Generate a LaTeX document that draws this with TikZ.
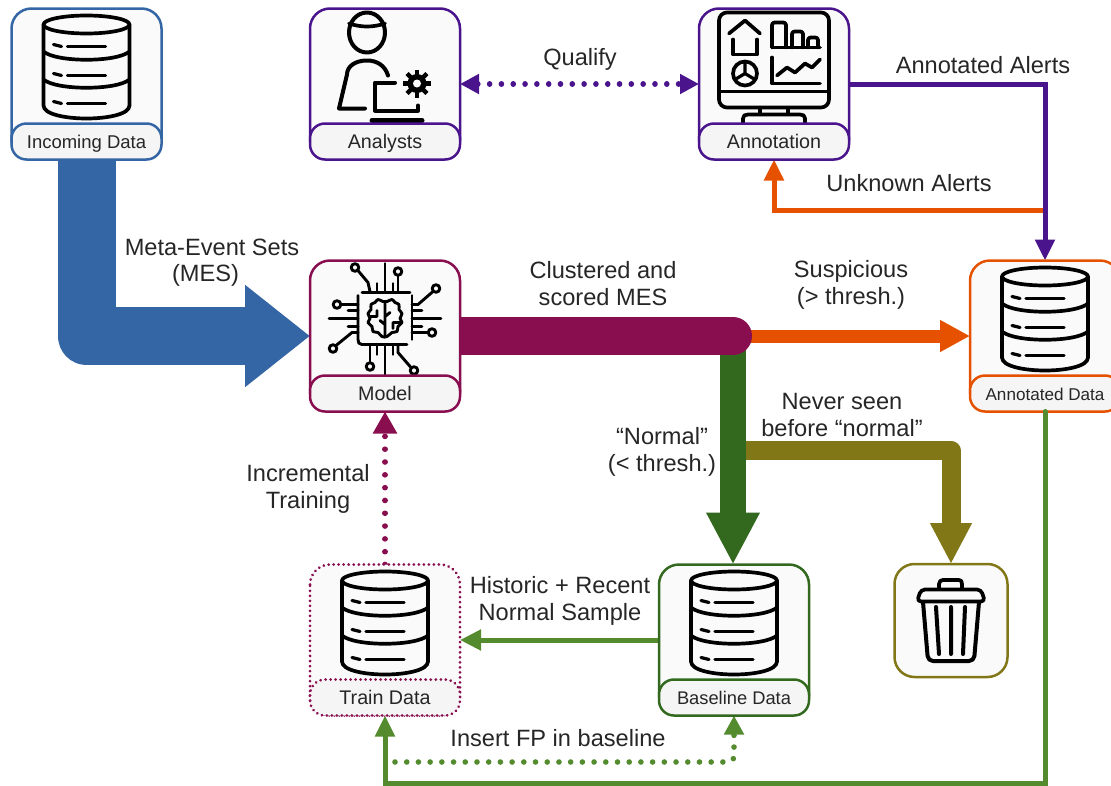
\documentclass[tikz,border=0pt]{standalone}
\usepackage{fontspec}
\setmainfont{Liberation Sans}
\usetikzlibrary{arrows.meta,backgrounds}
\definecolor{cblue}{HTML}{3465A4}
\definecolor{cpurple}{HTML}{4A148C}
\definecolor{cmaroon}{HTML}{880E4F}
\definecolor{corange}{HTML}{E65100}
\definecolor{cdgreen}{HTML}{33691E}
\definecolor{colive}{HTML}{827717}
\definecolor{cgreen}{HTML}{558B2F}
\definecolor{cfill}{HTML}{FAFAFA}
\definecolor{cfoot}{HTML}{F5F5F5}
\definecolor{ctext}{HTML}{262626}
\tikzset{
  cardbox/.style={rectangle,draw=#1,fill=cfill,rounded corners=20pt,line width=2.5pt,
    minimum width=150pt,minimum height=151pt,inner sep=0pt,outer sep=0pt},
  trashbox/.style={cardbox=#1,minimum width=113pt,minimum height=113pt},
  cardfoot/.style={rectangle,draw=#1,fill=cfoot,rounded corners=15pt,line width=2.5pt,anchor=south,
    minimum width=150pt,minimum height=36pt,inner sep=0pt,outer sep=0pt,text=ctext,
    text height=15pt,text depth=1pt,
    font=\fontsize{19.7}{22}\selectfont},
  dotborder/.style={line cap=round,dash pattern=on 0.01pt off 5pt},
  lbl/.style={align=center,text=ctext,inner sep=0pt,font=\fontsize{23.6}{26.4}\selectfont},
  icon/.style={draw=black,line width=3.7pt,line cap=round,line join=round},
  thinicon/.style={icon,line width=3.2pt},
  dots/.style={line cap=round,line width=5.6pt,dash pattern=on 0.01pt off #1},
  dbicon/.pic={
    \draw[icon] (0,16) ellipse [x radius=43pt,y radius=9pt];
    \draw[icon] (-43,16) -- (-43,97) .. controls (-43,106) and (-20,110) .. (0,110)
       .. controls (20,110) and (43,106) .. (43,97) -- (43,16);
    \draw[icon] (-43,43) .. controls (-30,54) and (30,54) .. (43,43);
    \draw[icon] (-43,71) .. controls (-30,82) and (30,82) .. (43,71);
    \foreach \r in {36,65,93}{
      \draw[thinicon] (-33,\r) -- (-25,\r+2);
      \draw[thinicon] (-19,\r+2) -- (19,\r+2);
    }
  },
  analysticon/.pic={
    \draw[icon,line width=4pt] (-18,24) ellipse [x radius=18pt,y radius=20pt];
    \draw[icon] (-36,15) .. controls (-24,19) and (-12,19) .. (0,15);
    \draw[icon,line width=4pt] (3,67) .. controls (0,57) and (-8,52) .. (-18,52)
       .. controls (-30,52) and (-38,58) .. (-38,66) -- (-46,100) -- (-20,100);
    \draw[icon,line width=4pt] (10,74) -- (-10,74) -- (-10,102) -- (33,102) -- (33,97);
    \draw[line width=5pt,line cap=round,black] (-13,112) -- (37,112);
    \fill[black] (32,75) circle [radius=9.5pt];
    \foreach \a in {0,45,...,315}{
      \draw[black,line width=4.5pt] (32,75) ++(\a:8pt) -- ++(\a:6pt);
    }
    \fill[cfill] (32,75) circle [radius=4pt];
  },
  monitoricon/.pic={
    \draw[icon] (-55,12) arc[start angle=180,end angle=90,radius=8pt] -- (47,4)
       arc[start angle=90,end angle=0,radius=8pt] -- (55,91)
       arc[start angle=0,end angle=-90,radius=8pt] -- (-47,99)
       arc[start angle=-90,end angle=-180,radius=8pt] -- cycle;
    \draw[icon] (-55,83) -- (55,83);
    \draw[thinicon] (-14,99) -- (-14,106) (14,99) -- (14,106);
    \draw[icon] (-31,114) -- (-31,110) .. controls (-31,107) and (-29,106) .. (-26,106)
       -- (26,106) .. controls (29,106) and (31,107) .. (31,110) -- (31,114);
    \draw[icon] (-45,25) -- (-29,12) -- (-14,25);
    \draw[icon] (-41,31) -- (-41,46) -- (-17,46) -- (-17,31);
    \draw[icon] (-2,39) -- (46,39);
    \draw[icon,rounded corners=2.5pt] (-2,39) -- (-2,14) -- (12,14) -- (12,39);
    \draw[icon,rounded corners=2.5pt] (18,39) -- (18,23) -- (29,23) -- (29,39);
    \draw[icon,rounded corners=2.5pt] (34,39) -- (34,29) -- (44,29) -- (44,39);
    \draw[icon] (-29,65) circle [radius=12pt];
    \draw[thinicon] (-29,53) -- (-29,65) -- (-39,71) (-29,65) -- (-19,71);
    \draw[icon] (-2,49) -- (-2,75) -- (46,75);
    \draw[icon] (3,67) -- (13,59) -- (21,64) -- (31,55) -- (38,59) -- (46,51);
  },
  chipicon/.pic={
    \begin{scope}[line width=2.9pt,draw=black,line cap=round,line join=round]
    \draw (-23,32) -- (25,32);
    \draw (27,35) -- (27,79);
    \draw (22,84) -- (-23,84) .. controls (-26,84) and (-27,82) .. (-27,79) -- (-27,35);
    \draw (0,3) -- (0,32) (0,84) -- (0,114) (-56,58) -- (-27,58) (27,58) -- (56,58);
    \draw (-8,23) -- (-8,32) (8,23) -- (8,32) (-8,84) -- (-8,94) (8,84) -- (8,94);
    \draw (-37,50) -- (-27,50) (-37,66) -- (-27,66) (27,50) -- (37,50) (27,66) -- (37,66);
    \draw (-27.5,9.5) -- (-17,22) -- (-15,31);
    \draw (13,15) -- (13,32);
    \draw (48,31) -- (33,44) -- (27,44);
    \draw (-44,44) -- (-27,44);
    \draw (-49,85) -- (-33,72) -- (-27,72);
    \draw (43,72) -- (27,72);
    \draw (-15,102) -- (-15,84);
    \draw (26,107) -- (13,92) -- (13,84);
    \foreach \p in {(-30,7),(13,11),(51,28),(-48,44),(-52,88),(47,72),(-15,106),(29,110)}{
      \draw \p circle [radius=3.8pt];
    }
    \draw plot[smooth cycle,tension=0.7] coordinates {
      (-2,41)(-7,39)(-10,42)(-14,44)(-14,49)(-17,53)(-15,58)(-17,62)(-13,66)(-12,71)(-7,72)(-3,76)
      (2,76)(7,72)(12,71)(13,66)(17,62)(15,58)(17,53)(14,49)(14,44)(10,42)(7,39)(2,41)};
    \draw (0,42) -- (0,75) (0,56) -- (5,52) (0,64) -- (-5,60) (-15,56) -- (-8,56) -- (-8,50)
      (15,62) -- (8,62) -- (8,68);
    \end{scope}
  },
  trashicon/.pic={
    \draw[icon] (-12,25) -- (-12,20) .. controls (-12,17) and (-10,16) .. (-8,16)
       -- (8,16) .. controls (10,16) and (11,17) .. (11,20) -- (11,25);
    \draw[icon,rounded corners=4pt] (-30,25.5) -- (30,25.5) -- (34,37.5) -- (-34,37.5) -- cycle;
    \draw[icon,line width=4pt,rounded corners=5pt] (-28,38) -- (-23,97) -- (23,97) -- (28,38);
    \draw[icon,line width=4pt] (-15,43) -- (-12,90) (0,43) -- (0,90) (14,43) -- (12,90);
  }
}
\begin{document}
\begin{tikzpicture}[x=1pt,y=-1pt]
\clip (0,0) rectangle (1111,785);
\useasboundingbox (0,0) rectangle (1111,785);
% cards
\node[cardbox=cblue] (inc) at (86.5,84) {};
\pic at (inc.north) {dbicon};
\node[cardfoot=cblue,font=\fontsize{18.5}{22}\selectfont] (incf) at (inc.south) {Incoming Data};

\node[cardbox=cpurple] (ana) at (385,84) {};
\pic at (ana.north) {analysticon};
\node[cardfoot=cpurple] (anaf) at (ana.south) {Analysts};

\node[cardbox=cpurple] (ann) at (774,84) {};
\pic at (ann.north) {monitoricon};
\node[cardfoot=cpurple] (annf) at (ann.south) {Annotation};

\node[cardbox=cmaroon] (mod) at (385,336) {};
\pic at (mod.north) {chipicon};
\node[cardfoot=cmaroon] (modf) at (mod.south) {Model};

\node[cardbox=corange] (adt) at (1045,336) {};
\pic at (adt.north) {dbicon};
\node[cardfoot=corange,font=\fontsize{17.1}{20}\selectfont] (adtf) at (adt.south) {Annotated Data};

\node[cardbox=cgreen!0,draw=none] (trn) at (385,640) {};
\draw[cmaroon,line width=3pt,dotborder] (trn.north west) ++(0,20) arc[start angle=180,end angle=90,radius=20pt]
   -- ++(110,0) arc[start angle=90,end angle=0,radius=20pt] -- ++(0,111)
   arc[start angle=0,end angle=-90,radius=20pt] -- ++(-110,0)
   arc[start angle=-90,end angle=-180,radius=20pt] -- cycle;
\pic at (trn.north) {dbicon};
\node[cardfoot=cmaroon,draw=none] (trnf) at (trn.south) {Train Data};
\draw[cmaroon,line width=3pt,dotborder,rounded corners=15pt] (trnf.south west) rectangle (trnf.north east);

\node[cardbox=cdgreen] (bas) at (734,640) {};
\pic at (bas.north) {dbicon};
\node[cardfoot=cdgreen,font=\fontsize{18.3}{22}\selectfont] (basf) at (bas.south) {Baseline Data};

\node[trashbox=colive] (tra) at (951,620.5) {};
\pic at (tra.north) {trashicon};

% connection helpers
\coordinate (split) at (733,336);
\coordinate (neverfrom) at (733,450.5);
\coordinate (unkfrom) at (1045,210);
\coordinate (botleft) at (385,783);
\coordinate (fpfrom) at (395,762);
\coordinate (fpcorner) at (734,762);

\begin{pgfonlayer}{background}
\draw[colive,line width=19pt,line join=round,-{Triangle[length=41pt,width=39pt]}] (neverfrom) -| (tra.north);
\draw[cdgreen,line width=26pt,-{Triangle[length=52pt,width=50pt]}] (split) -- (split |- bas.north);
\draw[corange,line width=13pt,-{Triangle[length=30pt,width=30pt]}] (split) -- (adt.west);
\draw[cblue,line width=58pt,line join=round,-{Triangle[length=65pt,width=98pt]}] (inc.south) |- (mod.west);
\draw[cmaroon,line width=38pt,line cap=round] (mod.center) -- (split);
\draw[corange,line width=5pt,-{Triangle[length=21pt,width=19pt]}] (unkfrom) -| (ann.south);
\draw[cpurple,line width=5pt,-{Triangle[length=21pt,width=19pt]}] (ann.east) -| (adt.north);
\draw[cpurple,dots=11.8pt,{Triangle[length=19pt,width=19pt]}-{Triangle[length=19pt,width=19pt]}] (ana.east) -- (ann.west);
\draw[cmaroon,dots=12.8pt,-{Triangle[length=22pt,width=23pt]}] (trn.north) -- (mod.south);
\draw[cgreen,line width=5pt,-{Triangle[length=21pt,width=20pt]}] (bas.west) -- (trn.east);
\draw[cgreen,dots=11.7pt,rounded corners=6pt,-{Triangle[length=19pt,width=19pt]}] (fpfrom) -- (fpcorner) -- (bas.south);
\end{pgfonlayer}
\draw[cgreen,line width=5pt,line cap=round,-{Triangle[length=21pt,width=19pt]}] (adt.south) |- (botleft) -- (trn.south);

% labels
\node[lbl] (lq) at (580,59) {Qualify};
\node[lbl] (laa) at (983,65) {Annotated Alerts};
\node[lbl] (lua) at (909,183) {Unknown Alerts};
\node[lbl] (lme) at (212,262.5) {Meta-Event Sets\\(MES)\hspace*{13pt}};
\node[lbl] (lcl) at (603,283.5) {Clustered and\\scored MES};
\node[lbl] (lsu) at (851,285) {Suspicious\\(> thresh.)};
\node[lbl] (lnv) at (842,415) {Never seen\\before “normal”};
\node[lbl] (lno) at (662,452) {“Normal”\\(< thresh.)};
\node[lbl] (lin) at (308,489) {Incremental\\Training};
\node[lbl] (lhi) at (560,601) {Historic + Recent\\Normal Sample};
\node[lbl] (lfp) at (558,738.5) {Insert FP in baseline};
\end{tikzpicture}
\end{document}
